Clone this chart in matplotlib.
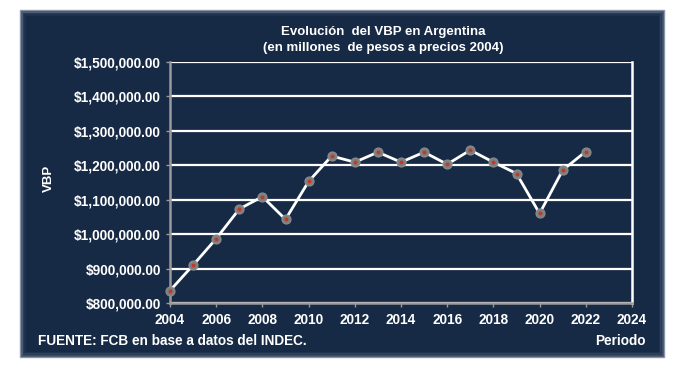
import matplotlib.pyplot as plt
from matplotlib.patches import Rectangle
from matplotlib.ticker import FuncFormatter, MultipleLocator

# VBP en millones de pesos a precios 2004
years = [2004, 2005, 2006, 2007, 2008, 2009, 2010, 2011, 2012, 2013,
         2014, 2015, 2016, 2017, 2018, 2019, 2020, 2021, 2022]
vbp = [836000, 910000, 987000, 1073000, 1109000, 1043000, 1153000, 1227000,
       1209000, 1238000, 1209000, 1238000, 1203000, 1244000, 1209000,
       1176000, 1060000, 1186000, 1240000]

navy = '#172a45'
plt.rcParams['font.family'] = ['Liberation Sans', 'DejaVu Sans']
plt.rcParams['font.weight'] = 'bold'

fig = plt.figure(figsize=(6.79, 3.68), dpi=100)
fig.patch.set_facecolor('white')
W, H = 679, 368

# background panel drawn in its own axes behind everything
bg = fig.add_axes([0, 0, 1, 1], zorder=-1)
bg.set_xlim(0, W)
bg.set_ylim(H, 0)
bg.axis('off')
x0, y0, x1, y1 = 20, 10, 664, 357
bg.add_patch(Rectangle((x0, y0), x1 - x0, y1 - y0, facecolor=navy,
                       edgecolor='#8a96a8', linewidth=1.0))
for k, a in enumerate([0.3, 0.15, 0.06]):
    m = (k + 1) * 1.5
    bg.add_patch(Rectangle((x0 + m, y0 + m), x1 - x0 - 2 * m, y1 - y0 - 2 * m,
                           facecolor='none', edgecolor='#9aa6b8', alpha=a,
                           linewidth=1.5))

ax = fig.add_axes([170 / W, 1 - 303 / H, (632 - 170) / W, (303 - 62) / H])
ax.set_facecolor(navy)

ax.plot(years, vbp, color='white', linewidth=2, zorder=3,
        marker='o', markersize=6.5, markerfacecolor='#7f7f7f',
        markeredgecolor='#8c8c8c', markeredgewidth=0.8, clip_on=False)
ax.plot(years, vbp, linestyle='none', marker='o', markersize=1.8,
        color='#c0392b', zorder=4, clip_on=False)

ax.set_xlim(2004, 2024)
ax.set_ylim(800000, 1500000)
ax.xaxis.set_major_locator(MultipleLocator(2))
ax.yaxis.set_major_locator(MultipleLocator(100000))
ax.yaxis.set_major_formatter(FuncFormatter(lambda v, p: '${:,.2f}'.format(v)))
ax.grid(axis='y', color='white', linewidth=1.6, zorder=1)
ax.set_axisbelow(True)

ax.spines['top'].set_visible(False)
ax.spines['right'].set_color('white')
ax.spines['right'].set_linewidth(1.8)
ax.spines['left'].set_color('#9a9a9a')
ax.spines['bottom'].set_color('#9a9a9a')
ax.spines['left'].set_linewidth(1.8)
ax.spines['bottom'].set_linewidth(1.8)
ax.tick_params(colors='#9a9a9a', length=3, width=1, labelcolor='white',
               labelsize=9.8)
ax.tick_params(axis='x', pad=4)
for lab in ax.get_xticklabels() + ax.get_yticklabels():
    lab.set_fontweight('bold')

fig.text(383 / W, 1 - 32 / H, 'Evolución  del VBP en Argentina', color='white',
         ha='center', va='center', fontsize=9.5, fontweight='bold')
fig.text(383 / W, 1 - 48 / H, '(en millones  de pesos a precios 2004)', color='white',
         ha='center', va='center', fontsize=9.5, fontweight='bold')
fig.text(49 / W, 1 - 178 / H, 'VBP', color='white', rotation=90,
         ha='center', va='center', fontsize=9.5, fontweight='bold')
fig.text(38 / W, 1 - 341 / H, 'FUENTE: FCB en base a datos del INDEC.', color='white',
         ha='left', va='center', fontsize=9.8, fontweight='bold')
fig.text(646 / W, 1 - 341 / H, 'Periodo', color='white',
         ha='right', va='center', fontsize=9.8, fontweight='bold')

fig.savefig('out.png', dpi=100, facecolor='white')
